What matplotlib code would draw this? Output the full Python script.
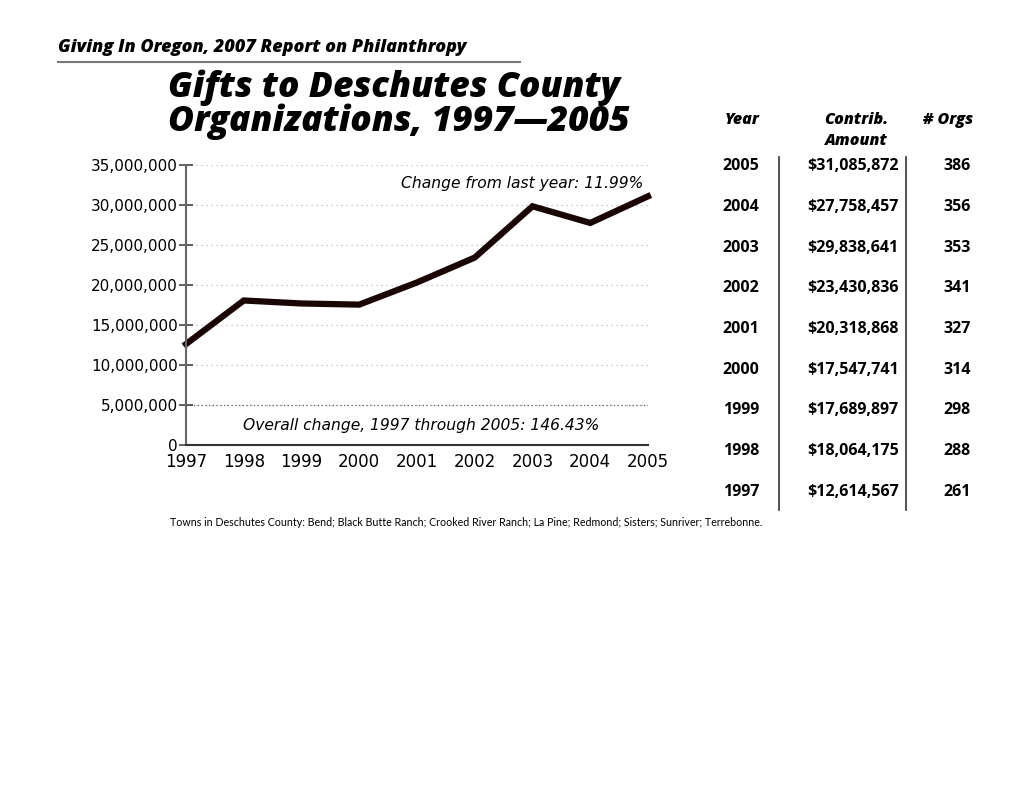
import matplotlib
matplotlib.use('Agg')
import matplotlib.pyplot as plt
from matplotlib.ticker import FuncFormatter

years = [1997, 1998, 1999, 2000, 2001, 2002, 2003, 2004, 2005]
amounts = [12614567, 18064175, 17689897, 17547741, 20318868,
           23430836, 29838641, 27758457, 31085872]
orgs = [261, 288, 298, 314, 327, 341, 353, 356, 386]
y_ticks = [0, 5000000, 10000000, 15000000, 20000000, 25000000, 30000000, 35000000]

header = 'Giving In Oregon, 2007 Report on Philanthropy'
title = 'Gifts to Deschutes County\nOrganizations, 1997\u20142005'
note_top = 'Change from last year: 11.99%'
note_bottom = 'Overall change, 1997 through 2005: 146.43%'
footnote = ('Towns in Deschutes County: Bend; Black Butte Ranch; Crooked River Ranch; '
            'La Pine; Redmond; Sisters; Sunriver; Terrebonne.')

W, H = 1020, 788
fig = plt.figure(figsize=(W / 100, H / 100), dpi=100)
fig.patch.set_facecolor('white')

def fx(px):
    return px / W

def fy(py):
    return 1 - py / H

# Header and rule
fig.text(fx(58), fy(48), header, fontsize=13, fontweight='heavy', style='italic',
         family='Open Sans', va='center', ha='left')
fig.add_artist(plt.Line2D([fx(58), fx(520)], [fy(62), fy(62)], color='#777777', lw=1.5))

# Title
fig.text(fx(168), fy(105), title, fontsize=25.5, fontweight='heavy', style='italic',
         family='Open Sans', va='center', ha='left', linespacing=0.92)

# Chart
ax = fig.add_axes([fx(186), fy(445), fx(648) - fx(186), fy(165) - fy(445)])
ax.plot(years, amounts, color='#1a0505', lw=4.5, solid_joinstyle='miter', clip_on=False)
ax.set_xlim(1997, 2005)
ax.set_ylim(0, 35000000)
ax.set_yticks(y_ticks)
ax.set_xticks(years)
ax.yaxis.set_major_formatter(FuncFormatter(lambda v, p: f'{int(v):,}'))
ax.tick_params(axis='y', direction='inout', length=10, width=1.2, color='#444444',
               labelsize=11, pad=1)
ax.tick_params(axis='x', length=0, labelsize=12, pad=6)
for lab in ax.get_yticklabels() + ax.get_xticklabels():
    lab.set_family('DejaVu Sans')
for v in y_ticks[1:]:
    ax.axhline(v, color='#bbbbbb', lw=0.9, ls=(0, (1, 3)), zorder=0)
ax.axhline(5000000, color='#666666', lw=0.9, ls=(0, (1, 2)), zorder=0)
for s in ['top', 'right']:
    ax.spines[s].set_visible(False)
ax.spines['left'].set_color('#666666')
ax.spines['left'].set_linewidth(1.5)
ax.spines['bottom'].set_color('#333333')
ax.spines['bottom'].set_linewidth(1.5)

ax.text(0.99, 0.935, note_top, transform=ax.transAxes, ha='right', va='center',
        fontsize=11.2, style='italic', family='DejaVu Sans')
ax.text(0.51, 0.068, note_bottom, transform=ax.transAxes, ha='center', va='center',
        fontsize=11.2, style='italic', family='DejaVu Sans')

# Table
tfont = dict(family='Open Sans', fontweight='bold', fontsize=11.5, va='center')
hfont = dict(family='Open Sans', fontweight='heavy', style='italic', fontsize=11.5, va='center')
fig.text(fx(760), fy(120), 'Year', ha='right', **hfont)
fig.text(fx(856), fy(120), 'Contrib.', ha='center', **hfont)
fig.text(fx(856), fy(141), 'Amount', ha='center', **hfont)
fig.text(fx(973), fy(120), '# Orgs', ha='right', **hfont)

row_y0, row_step = 166, 40.75
for i, (yr, amt, n) in enumerate(zip(years[::-1], amounts[::-1], orgs[::-1])):
    yy = fy(row_y0 + i * row_step)
    fig.text(fx(759), yy, str(yr), ha='right', **tfont)
    fig.text(fx(807), yy, f'${amt:,}', ha='left', **tfont)
    fig.text(fx(971), yy, str(n), ha='right', **tfont)

for xl in [779, 906]:
    fig.add_artist(plt.Line2D([fx(xl), fx(xl)], [fy(157), fy(510)], color='#333333', lw=1.2))

fig.text(fx(170), fy(522), footnote, fontsize=7.7, family='Lato', ha='left', va='center')

fig.savefig('out.png', dpi=100)
